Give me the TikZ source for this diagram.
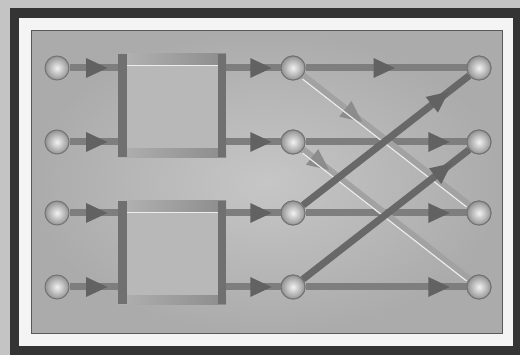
\documentclass[tikz,border=0pt]{standalone}
\usetikzlibrary{arrows.meta,decorations.markings}
\definecolor{bgout}{HTML}{C4C4C4}
\definecolor{frame}{HTML}{343434}
\definecolor{paper}{HTML}{F4F4F4}
\definecolor{panelin}{HTML}{C6C6C6}
\definecolor{panelout}{HTML}{ABABAB}
\definecolor{shaft}{HTML}{7E7E7E}
\definecolor{head}{HTML}{626262}
\definecolor{darkdiag}{HTML}{686868}
\definecolor{lightdiag}{HTML}{A2A2A2}
\definecolor{lighthead}{HTML}{8C8C8C}
\definecolor{barD}{HTML}{707070}
\definecolor{barM}{HTML}{8C8C8C}
\definecolor{barL}{HTML}{B0B0B0}
\definecolor{boxin}{HTML}{B8B8B8}
\begin{document}
\begin{tikzpicture}[x=1pt,y=-1pt,
  ball/.style={circle, minimum size=24pt, inner sep=0pt, draw=black!55, line width=1pt,
    inner color=white!90!gray, outer color=gray!85},
  boxn/.style={rectangle, minimum width=108pt, minimum height=103pt, inner sep=0pt, fill=boxin},
  flow/.style n args={3}{line width=7pt, draw=#1, postaction={decorate},
    decoration={markings, mark=at position #3 with {\arrow{Triangle[width=18pt,length=22pt,color=#2]}}}},
  shine/.style={line width=1.2pt, draw=white!85!gray, shorten <=14pt, shorten >=14pt},
]
\useasboundingbox (0,0) rectangle (520,355);
\fill[bgout] (0,0) rectangle (520,355);
\fill[frame] (10,8) rectangle (520,355);
\fill[paper] (19,18) rectangle (513,346);
\shade[inner color=panelin, outer color=panelout] (31,31) rectangle (502,334);
\draw[black!65, line width=1pt] (31,31) rectangle (502,334);

% boxes
\node[boxn] (b1) at (172,105.5) {};
\node[boxn] (b2) at (172,252.5) {};
\foreach \b in {b1,b2}{
  \shade[left color=barL, right color=barM] ([xshift=9pt]\b.north west) rectangle ([yshift=-12pt]\b.north east);
  \draw[white!85!gray, line width=1pt] ([xshift=9pt,yshift=-12pt]\b.north west) -- ([xshift=-8pt,yshift=-12pt]\b.north east);
  \shade[left color=barL, right color=barM] ([yshift=9pt]\b.south west) rectangle (\b.south east);
  \fill[barD] (\b.north west) rectangle ([xshift=9pt]\b.south west);
  \fill[barD] ([xshift=-8pt]\b.north east) rectangle (\b.south east);
}

% nodes
\node[ball] (l1) at (57,68) {};
\node[ball] (l2) at (57,142) {};
\node[ball] (l3) at (57,213) {};
\node[ball] (l4) at (57,287) {};
\node[ball] (m1) at (293,68) {};
\node[ball] (m2) at (293,142) {};
\node[ball] (m3) at (293,213) {};
\node[ball] (m4) at (293,287) {};
\node[ball] (r1) at (479,68) {};
\node[ball] (r2) at (479,142) {};
\node[ball] (r3) at (479,213) {};
\node[ball] (r4) at (479,287) {};

% input arrows
\draw[flow={shaft}{head}{0.8}] (l1) -- (l1 -| b1.west);
\draw[flow={shaft}{head}{0.8}] (l2) -- (l2 -| b1.west);
\draw[flow={shaft}{head}{0.8}] (l3) -- (l3 -| b2.west);
\draw[flow={shaft}{head}{0.8}] (l4) -- (l4 -| b2.west);
% box outputs
\draw[flow={shaft}{head}{0.85}] (m1 -| b1.east) -- (m1);
\draw[flow={shaft}{head}{0.85}] (m2 -| b1.east) -- (m2);
\draw[flow={shaft}{head}{0.85}] (m3 -| b2.east) -- (m3);
\draw[flow={shaft}{head}{0.85}] (m4 -| b2.east) -- (m4);

% horizontals
\draw[flow={shaft}{head}{0.56}] (m1) -- (r1);
\draw[flow={shaft}{head}{0.9}] (m2) -- (r2);
\draw[flow={shaft}{head}{0.9}] (m3) -- (r3);
\draw[flow={shaft}{head}{0.9}] (m4) -- (r4);

% light diagonals
\draw[flow={lightdiag}{lighthead}{0.36}] (m1) -- (r3);
\draw[shine] ([xshift=-1.5pt,yshift=-2.5pt]m1.center) -- ([xshift=-1.5pt,yshift=-2.5pt]r3.center);
\draw[flow={lightdiag}{lighthead}{0.16}] (m2) -- (r4);
\draw[shine] ([xshift=-1.5pt,yshift=-2.5pt]m2.center) -- ([xshift=-1.5pt,yshift=-2.5pt]r4.center);

% dark diagonals
\draw[flow={darkdiag}{head}{0.88}] (m3) -- (r1);
\draw[flow={darkdiag}{head}{0.9}] (m4) -- (r2);

% redraw balls on top
\foreach \n in {m1,m2,m3,m4,r1,r2,r3,r4}{
  \node[ball] at (\n) {};
}
\end{tikzpicture}
\end{document}
